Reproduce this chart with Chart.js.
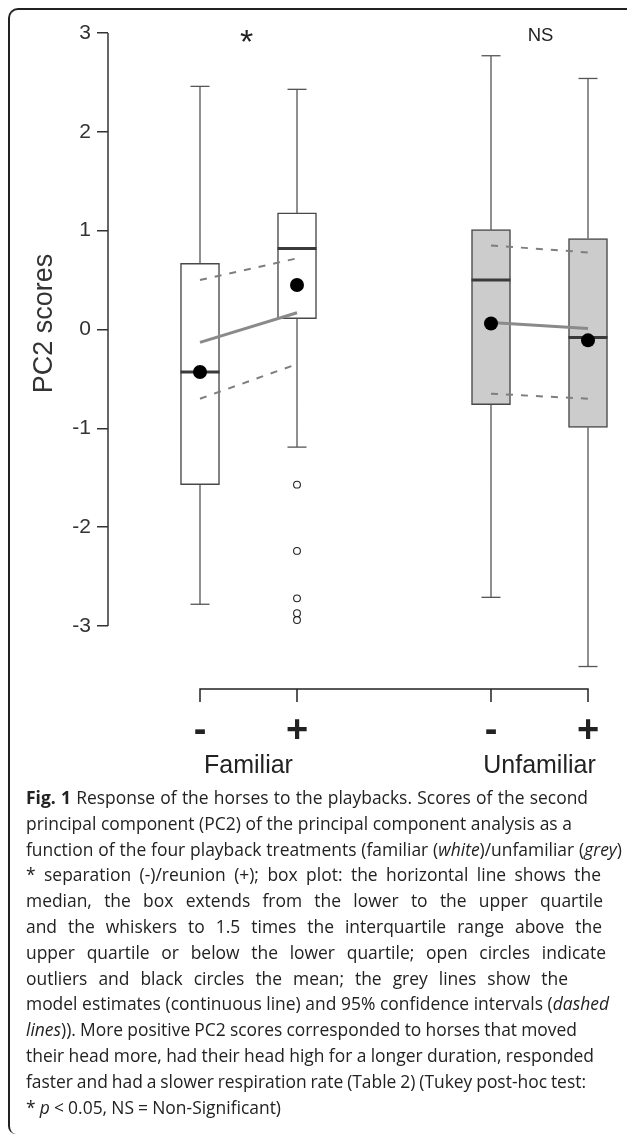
<!DOCTYPE html>
<html>
<head>
<meta charset="utf-8">
<script src="https://cdn.jsdelivr.net/npm/chart.js@4.4.1/dist/chart.umd.min.js"></script>
<style>
  html, body { margin: 0; padding: 0; background: #fff; overflow: hidden; }
  #page { position: relative; width: 627px; height: 1138px; }
  #frame {
    position: absolute; left: 8px; top: 8px; width: 640px; height: 1126px;
    border-top: 2px solid #222; border-left: 2px solid #222;
    border-radius: 10px 0 0 8px; box-sizing: border-box;
  }
  #chartBox { position: absolute; left: 0; top: 0; width: 627px; height: 800px; }
  .cap {
    position: absolute; left: 26px; white-space: nowrap;
    font-family: "Open Sans", "Noto Sans", sans-serif; font-size: 18.5px;
    line-height: 26px; color: #222; transform-origin: left center;
  }
  .cap b { font-weight: 700; }
</style>
</head>
<body>
<div id="page">
  <div id="frame"></div>
  <div id="chartBox"><canvas id="chart" width="627" height="800"></canvas></div>
  <div id="caption"></div>
</div>
<script>
// treatments: familiar -, familiar +, unfamiliar -, unfamiliar +
const groups = ["Familiar", "Unfamiliar"];
const treatments = ["-", "+", "-", "+"];
const xPos = [1, 2, 4, 5];
const whiskerHigh = [2.46, 2.43, 2.77, 2.54];
const q3 = [0.67, 1.18, 1.01, 0.92];
const medians = [-0.43, 0.82, 0.5, -0.08];
const q1 = [-1.57, 0.11, -0.76, -0.99];
const whiskerLow = [-2.78, -1.19, -2.71, -3.41];
const means = [-0.43, 0.45, 0.06, -0.11];
const outliers = [[], [-1.57, -2.24, -2.72, -2.87, -2.94], [], []];
const modelEst = [-0.13, 0.17, 0.07, 0.01];
const ciUpper = [0.5, 0.72, 0.85, 0.78];
const ciLower = [-0.7, -0.35, -0.65, -0.7];
const yTicks = [-3, -2, -1, 0, 1, 2, 3];
const signif = ["*", "NS"];
const boxFill = ["#ffffff", "#ffffff", "#cccccc", "#cccccc"];

const captionLines = [
  { html: "<b>Fig. 1</b> Response of the horses to the playbacks. Scores of the second", end: 588 },
  { html: "principal component (PC2) of the principal component analysis as a", end: 572 },
  { html: "function of the four playback treatments (familiar (<i>white</i>)/unfamiliar (<i>grey</i>)", end: 622 },
  { html: "* separation (-)/reunion (+); box plot: the horizontal line shows the", end: 601 },
  { html: "median, the box extends from the lower to the upper quartile", end: 603 },
  { html: "and the whiskers to 1.5 times the interquartile range above the", end: 602 },
  { html: "upper quartile or below the lower quartile; open circles indicate", end: 606 },
  { html: "outliers and black circles the mean; the grey lines show the", end: 568 },
  { html: "model estimates (continuous line) and 95% confidence intervals (<i>dashed</i>", end: 609 },
  { html: "<i>lines</i>)). More positive PC2 scores corresponded to horses that moved", end: 577 },
  { html: "their head more, had their head high for a longer duration, responded", end: 594 },
  { html: "faster and had a slower respiration rate (Table 2) (Tukey post-hoc test:", end: 586 },
  { html: "* <i>p</i> &lt; 0.05, NS = Non-Significant)", end: 281 },
];

// build pieces from the arrays
const pairs = (ys) => {
  const out = [];
  xPos.forEach((x, i) => {
    out.push({ x: x, y: ys[i] });
    if (i % 2 === 1) out.push({ x: x + 1, y: null });
  });
  return out;
};

const whiskers = [];
xPos.forEach((x, i) => {
  whiskers.push({ x: x, y: q3[i] }, { x: x, y: whiskerHigh[i] }, { x: x, y: null });
  whiskers.push({ x: x, y: q1[i] }, { x: x, y: whiskerLow[i] }, { x: x, y: null });
});

const caps = [];
xPos.forEach((x, i) => {
  caps.push({ x: x, y: whiskerHigh[i] }, { x: x, y: whiskerLow[i] });
});

const outlierPts = [];
outliers.forEach((list, i) => list.forEach((v) => outlierPts.push({ x: xPos[i], y: v })));

const FONT = '"Liberation Sans", Arial, sans-serif';

const extras = {
  id: "extras",
  afterDraw(chart) {
    const ctx = chart.ctx;
    const xs = chart.scales.x;
    const ys = chart.scales.y;
    const left = chart.chartArea.left;
    ctx.save();
    // y axis line only across the tick range
    ctx.strokeStyle = "#333";
    ctx.lineWidth = 1.5;
    ctx.beginPath();
    ctx.moveTo(left, ys.getPixelForValue(yTicks[yTicks.length - 1]));
    ctx.lineTo(left, ys.getPixelForValue(yTicks[0]));
    ctx.stroke();

    // y axis title
    ctx.fillStyle = "#333";
    ctx.font = "27px " + FONT;
    ctx.textAlign = "center";
    ctx.textBaseline = "middle";
    ctx.save();
    ctx.translate(45, ys.getPixelForValue(0) - 6);
    ctx.rotate(-Math.PI / 2);
    ctx.fillText("PC2 scores", 0, 0);
    ctx.restore();

    // significance marks
    const mid0 = (xs.getPixelForValue(xPos[0]) + xs.getPixelForValue(xPos[1])) / 2;
    const mid1 = (xs.getPixelForValue(xPos[2]) + xs.getPixelForValue(xPos[3])) / 2;
    ctx.fillStyle = "#222";
    ctx.font = "34px " + FONT;
    ctx.fillText(signif[0], mid0 - 2, 44);
    ctx.font = "18.5px " + FONT;
    ctx.fillText(signif[1], mid1 + 1, 36);

    // bracket under the plot
    const by = 689;
    ctx.strokeStyle = "#222";
    ctx.lineWidth = 1.5;
    ctx.beginPath();
    ctx.moveTo(xs.getPixelForValue(xPos[0]), by + 13);
    ctx.lineTo(xs.getPixelForValue(xPos[0]), by);
    ctx.lineTo(xs.getPixelForValue(xPos[3]), by);
    ctx.lineTo(xs.getPixelForValue(xPos[3]), by + 13);
    ctx.moveTo(xs.getPixelForValue(xPos[1]), by);
    ctx.lineTo(xs.getPixelForValue(xPos[1]), by + 13);
    ctx.moveTo(xs.getPixelForValue(xPos[2]), by);
    ctx.lineTo(xs.getPixelForValue(xPos[2]), by + 13);
    ctx.stroke();

    ctx.font = "bold 38px " + FONT;
    treatments.forEach((t, i) => {
      ctx.fillText(t, xs.getPixelForValue(xPos[i]), 732);
    });
    ctx.font = "25px " + FONT;
    ctx.fillText(groups[0], mid0, 766);
    ctx.fillText(groups[1], mid1, 766);
    ctx.restore();
  },
};

const chart = new Chart(document.getElementById("chart"), {
  type: "scatter",
  data: {
    datasets: [
      {
        type: "bar",
        label: "Boxes",
        data: xPos.map((x, i) => ({ x: x, y: [q1[i], q3[i]] })),
        backgroundColor: boxFill,
        borderColor: "#484848",
        borderWidth: 1.5,
        borderSkipped: false,
        barThickness: 39,
        order: 10,
      },
      {
        type: "line",
        label: "Whiskers",
        data: whiskers,
        borderColor: "#555",
        borderWidth: 1.3,
        pointRadius: 0,
        spanGaps: false,
        order: 9,
      },
      {
        label: "Caps",
        data: caps,
        pointStyle: "line",
        pointRadius: 9.5,
        borderColor: "#555",
        borderWidth: 1.3,
        order: 9,
      },
      {
        label: "Medians",
        data: xPos.map((x, i) => ({ x: x, y: medians[i] })),
        pointStyle: "line",
        pointRadius: 19.5,
        borderColor: "#3a3a3a",
        borderWidth: 3,
        order: 8,
      },
      {
        label: "Outliers",
        data: outlierPts,
        pointStyle: "circle",
        pointRadius: 3.4,
        borderColor: "#222",
        backgroundColor: "#fff",
        borderWidth: 1.1,
        order: 7,
      },
      {
        type: "line",
        label: "CI upper",
        data: pairs(ciUpper),
        borderColor: "#7e7e7e",
        borderWidth: 2,
        borderDash: [7, 8],
        pointRadius: 0,
        spanGaps: false,
        order: 6,
      },
      {
        type: "line",
        label: "CI lower",
        data: pairs(ciLower),
        borderColor: "#7e7e7e",
        borderWidth: 2,
        borderDash: [7, 8],
        pointRadius: 0,
        spanGaps: false,
        order: 6,
      },
      {
        type: "line",
        label: "Model estimate",
        data: pairs(modelEst),
        borderColor: "#8a8a8a",
        borderWidth: 3,
        pointRadius: 0,
        spanGaps: false,
        order: 5,
      },
      {
        label: "Means",
        data: xPos.map((x, i) => ({ x: x, y: means[i] })),
        pointStyle: "circle",
        pointRadius: 7,
        backgroundColor: "#000",
        borderWidth: 0,
        order: 1,
      },
    ],
  },
  options: {
    responsive: false,
    animation: false,
    events: [],
    clip: false,
    datasets: { bar: { clip: false }, line: { clip: false }, scatter: { clip: false } },
    layout: { padding: { top: 33, right: 0, bottom: 125, left: 0 } },
    plugins: { legend: { display: false }, tooltip: { enabled: false } },
    scales: {
      x: { type: "linear", display: false, min: 0.05, max: 5.33, offset: false },
      y: {
        type: "linear",
        min: -3.5,
        max: 3,
        afterBuildTicks: (scale) => {
          scale.ticks = yTicks.map((v) => ({ value: v }));
        },
        afterFit: (scale) => {
          scale.width = 108;
        },
        border: { display: false },
        grid: {
          drawOnChartArea: false,
          drawTicks: true,
          tickLength: 11,
          color: "#333",
          lineWidth: 1.5,
        },
        ticks: {
          color: "#333",
          padding: 6,
          font: { family: FONT, size: 21 },
          callback: (v) => String(v),
        },
      },
    },
  },
  plugins: [extras],
});

// fit the x range so the four treatments sit where the printed figure has them
(function calibrate() {
  const area = chart.chartArea;
  const unitX = (588 - 200) / (xPos[3] - xPos[0]);
  const xMin = xPos[0] - (200 - area.left) / unitX;
  chart.options.scales.x.min = xMin;
  chart.options.scales.x.max = xMin + (area.right - area.left) / unitX;
  const unitY = (626 - 33) / 6;
  chart.options.scales.y.max = 3 - (33 - area.top) / unitY;
  chart.options.scales.y.min = chart.options.scales.y.max - (area.bottom - area.top) / unitY;
  chart.update();
})();

// caption, one line per row, condensed to match the printed widths
function layoutCaption() {
  const box = document.getElementById("caption");
  const rows = captionLines.map((line, i) => {
    const div = document.createElement("div");
    div.className = "cap";
    div.style.top = (797 - 13 + i * 25.8) + "px";
    div.innerHTML = line.html;
    box.appendChild(div);
    return { div, line, w: div.getBoundingClientRect().width };
  });
  const plain = [0, 1, 2, 9, 10, 11];
  const k = plain.reduce((s, i) => s + (rows[i].line.end - 26) / rows[i].w, 0) / plain.length;
  rows.forEach((r) => {
    const spaces = (r.div.textContent.match(/ /g) || []).length;
    const extra = ((r.line.end - 26) / k - r.w) / spaces;
    r.div.style.wordSpacing = extra + "px";
    r.div.style.transform = "scaleX(" + k + ")";
  });
}
if (document.fonts && document.fonts.ready) {
  document.fonts.ready.then(layoutCaption);
} else {
  layoutCaption();
}
</script>
</body>
</html>
